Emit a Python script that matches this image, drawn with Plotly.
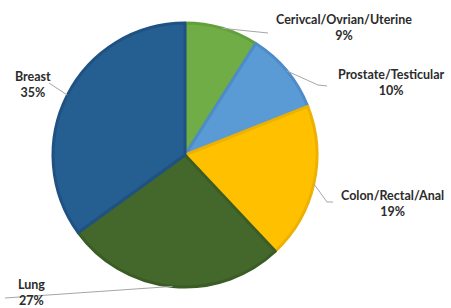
import math
import plotly.graph_objects as go

# ---- data ----
categories = ["Cerivcal/Ovrian/Uterine", "Prostate/Testicular", "Colon/Rectal/Anal", "Lung", "Breast"]
percent_values = [9, 10, 19, 27, 35]

# ---- styles ----
fill_colors = ["#70AD47", "#5B9BD5", "#FFC000", "#44682B", "#255E91"]
edge_colors = ["#62A03C", "#4D8CC9", "#EDB200", "#3B5C25", "#1F5283"]

W, H = 451, 308
CX, CY, R = 185, 155, 132

# label layout (pixel positions of label centres and leader-line elbows)
label_pos = [(344, 27), (391, 83), (392, 203), (31, 292), (33, 84)]
leader_ends = [[(268, 33)], [(318, 85), (327, 86)], [(327, 202), (333, 202)], [(5, 298)], [(49, 83)]]

def px(x):
    return x / W

def py(y):
    return 1 - y / H

fig = go.Figure(go.Pie(
    labels=categories,
    values=percent_values,
    sort=False,
    direction="clockwise",
    rotation=0,
    textinfo="none",
    hoverinfo="label+percent",
    marker=dict(colors=fill_colors, line=dict(color=edge_colors, width=3)),
    domain=dict(x=[(CX - R) / W, (CX + R) / W], y=[(H - CY - R) / H, (H - CY + R) / H]),
    showlegend=False,
))

total = sum(percent_values)
cum = 0
shapes = []
annotations = []
for i, (cat, v) in enumerate(zip(categories, percent_values)):
    mid = (cum + v / 2) / total * 2 * math.pi
    cum += v
    ax = CX + R * math.sin(mid)
    ay = CY - R * math.cos(mid)
    pts = [(ax, ay)] + leader_ends[i]
    path = "M " + " L ".join(f"{px(x):.4f},{py(y):.4f}" for x, y in pts)
    shapes.append(dict(type="path", path=path, xref="paper", yref="paper",
                       line=dict(color="#A6A6A6", width=1)))
    lx, ly = label_pos[i]
    annotations.append(dict(
        x=px(lx), y=py(ly), xref="paper", yref="paper",
        text=f"<b>{cat}</b><br><b>{round(v / total * 100)}%</b>",
        showarrow=False, xanchor="center", yanchor="middle",
        font=dict(family="Lato, Calibri, sans-serif", size=12.5, color="#2B2B2B"),
        align="center",
    ))

fig.update_layout(
    width=W, height=H,
    margin=dict(l=0, r=0, t=0, b=0),
    paper_bgcolor="white",
    plot_bgcolor="white",
    shapes=shapes,
    annotations=annotations,
)

fig.write_html("out.html", config={"displayModeBar": False},
               post_script="document.body.style.margin='0';")
